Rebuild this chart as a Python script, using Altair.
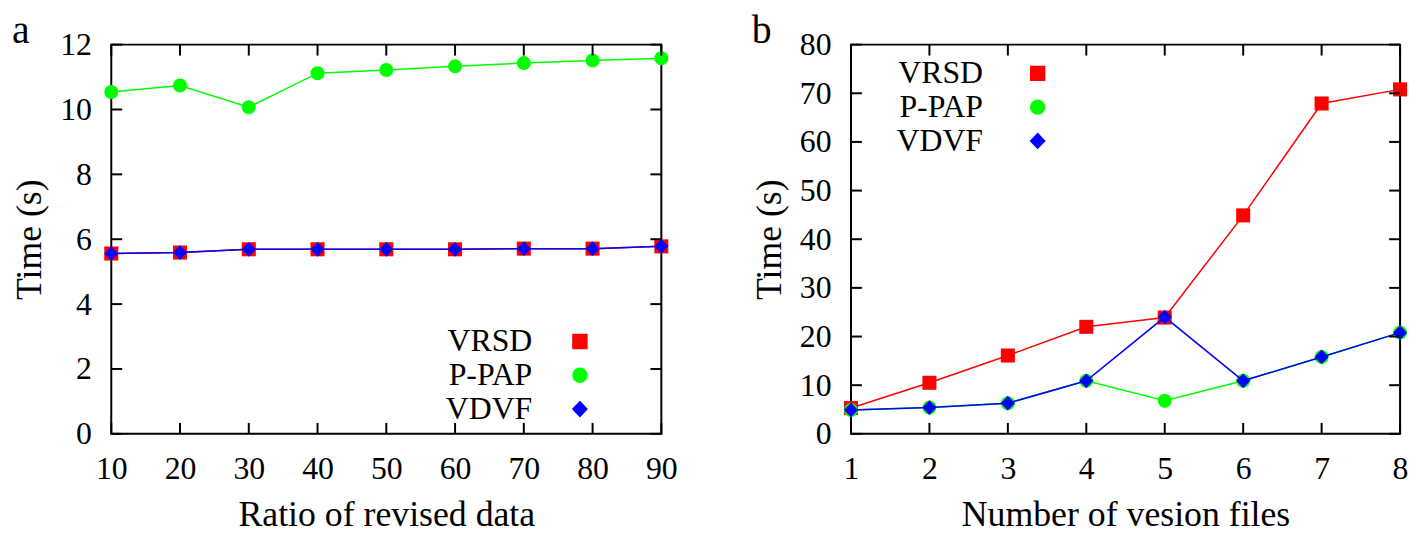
import altair as alt
import pandas as pd

SERIES = ["VRSD", "P-PAP", "VDVF"]
COLORS = ["#ff0000", "#00ff00", "#0000ff"]

# Panel a
RATIO = [10, 20, 30, 40, 50, 60, 70, 80, 90]
A_VRSD = [5.56, 5.59, 5.69, 5.69, 5.69, 5.69, 5.71, 5.71, 5.78]
A_PPAP = [10.54, 10.74, 10.07, 11.12, 11.22, 11.33, 11.43, 11.51, 11.58]
A_VDVF = [5.56, 5.59, 5.69, 5.69, 5.69, 5.69, 5.71, 5.71, 5.78]
A_YTICKS = [0, 2, 4, 6, 8, 10, 12]

# Panel b
FILES = [1, 2, 3, 4, 5, 6, 7, 8]
B_VRSD = [5.3, 10.5, 16.1, 22.0, 23.9, 44.9, 67.9, 70.8]
B_PPAP = [4.9, 5.4, 6.3, 10.9, 6.8, 10.9, 15.8, 20.8]
B_VDVF = [4.9, 5.4, 6.3, 10.9, 24.0, 10.9, 15.8, 20.8]
B_YTICKS = [0, 10, 20, 30, 40, 50, 60, 70, 80]

FONT = "Liberation Serif"
FS = 32
TFS = 36
TICK = 11

SQ = "M-1,-1L1,-1L1,1L-1,1Z"
CI = ("M1,0C1,0.5523,0.5523,1,0,1C-0.5523,1,-1,0.5523,-1,0"
      "C-1,-0.5523,-0.5523,-1,0,-1C0.5523,-1,1,-0.5523,1,0Z")
DI_PT = "M0,-1.05L1,0L0,1.05L-1,0Z"
DI_LG = "M0,-1.05L0.7,0L0,1.05L-0.7,0Z"


def long_df(xs, cols):
    rows = []
    for s, vals in zip(SERIES, cols):
        for x, v in zip(xs, vals):
            rows.append({"x": x, "y": v, "series": s})
    return pd.DataFrame(rows)


def by_series(values):
    return ("datum.value === '%s' ? '%s' : datum.value === '%s' ? '%s' : '%s'"
            % (SERIES[0], values[0], SERIES[1], values[1], values[2]))


def panel(df, xdom, xticks, ydom, yticks, xtitle, letter, lx, ly, loff, lhalf, w, h):
    xs = alt.Scale(domain=xdom, nice=False, zero=False)
    ys = alt.Scale(domain=ydom, nice=False, zero=False)
    cs = alt.Scale(domain=SERIES, range=COLORS)
    ss = alt.Scale(domain=SERIES, range=["square", "circle", DI_PT])
    common = dict(ticks=False, domain=False, grid=False,
                  labelFont=FONT, labelFontSize=FS, labelColor="black",
                  titleFont=FONT, titleFontSize=TFS, titleFontWeight="normal",
                  titleColor="black", labelFlush=False, labelOverlap=False)
    xax = alt.Axis(values=xticks, title=xtitle, labelPadding=20, titlePadding=13, **common)
    yax = alt.Axis(values=yticks, title="Time (s)", labelPadding=20, titlePadding=11, **common)
    X = alt.X("x:Q", scale=xs, axis=xax)
    Y = alt.Y("y:Q", scale=ys, axis=yax)
    line = f"M-{lhalf},0L{lhalf},0"
    legend = alt.Legend(
        orient="none", legendX=lx, legendY=ly, title=None, direction="vertical",
        labelFont=FONT, labelFontSize=FS, labelColor="black", labelAlign="right",
        labelOffset={"expr": str(loff)}, symbolSize=196, symbolStrokeWidth=1.5,
        rowPadding=2, padding=0,
        symbolType={"expr": by_series([line + SQ, line + CI, line + DI_LG])},
        symbolStrokeColor={"expr": by_series(COLORS)},
        symbolFillColor={"expr": by_series(COLORS)},
    )
    C = alt.Color("series:N", scale=cs, legend=legend)
    F = alt.Fill("series:N", scale=cs, legend=None)
    layers = []
    for s in SERIES:
        base = alt.Chart(df).transform_filter(alt.datum.series == s)
        layers.append(base.mark_line(strokeWidth=1.5).encode(x=X, y=Y, color=C))
        layers.append(base.mark_point(filled=True, size=200, opacity=1).encode(
            x=X, y=Y, fill=F, shape=alt.Shape("series:N", scale=ss, legend=None)))
    # inward tick marks on all four borders, at the tick values
    ydf = pd.DataFrame({"y": yticks})
    xdf = pd.DataFrame({"x": xticks})
    rk = dict(color="black", strokeWidth=2, opacity=1)
    for x0, x1 in [(0, TICK), (w - TICK, w)]:
        layers.append(alt.Chart(ydf).mark_rule(**rk).encode(
            y=Y, x=alt.value(x0), x2=alt.value(x1)))
    for y0, y1 in [(0, TICK), (h - TICK, h)]:
        layers.append(alt.Chart(xdf).mark_rule(**rk).encode(
            x=X, y=alt.value(y0), y2=alt.value(y1)))
    return alt.layer(*layers).properties(
        width=w, height=h,
        title=alt.TitleParams(letter, anchor="start", frame="bounds", font=FONT, fontSize=40,
                              fontWeight="normal", color="black", offset={"expr": "-22"}),
    )


left = panel(long_df(RATIO, [A_VRSD, A_PPAP, A_VDVF]), [10, 90], RATIO, [0, 12], A_YTICKS,
             "Ratio of revised data", "a", 456, 283, -64, 6.57, 554, 392)
right = panel(long_df(FILES, [B_VRSD, B_PPAP, B_VDVF]), [1, 8], FILES, [0, 80], B_YTICKS,
              "Number of vesion files", "b", 172, 13, -71, 6.43, 553, 392)

chart = alt.hconcat(left, right, spacing=73).resolve_scale(
    color="independent", fill="independent", shape="independent"
).resolve_legend(color="independent").properties(
    padding={"left": 3, "top": 0, "right": 0, "bottom": 0}
).configure_view(stroke="black", strokeWidth=2)

chart.save("out.html", embed_options={"renderer": "svg", "actions": False})
